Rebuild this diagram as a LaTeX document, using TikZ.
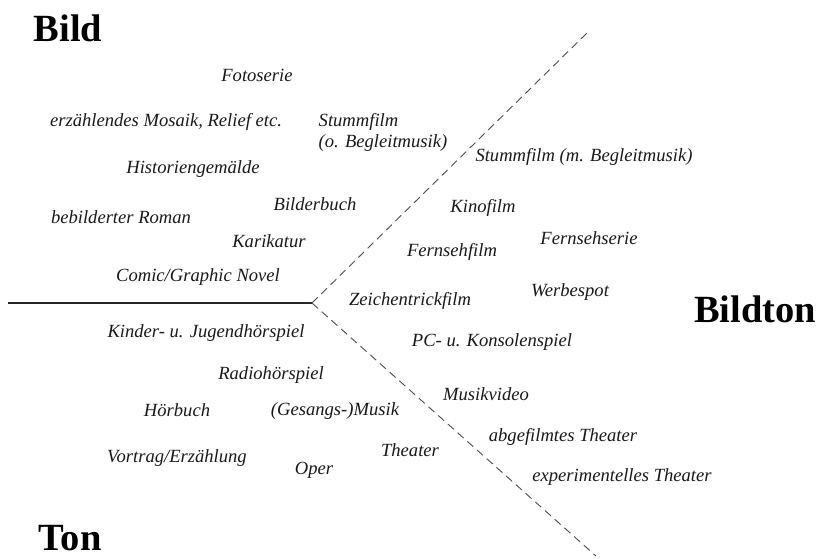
\documentclass[tikz,border=0pt]{standalone}
\usepackage{fontspec}
\setmainfont{Liberation Serif}
\begin{document}
\begin{tikzpicture}[x=1pt,y=-1pt,
  item/.style={font=\fontsize{18.6}{21}\selectfont\itshape, inner sep=0pt, text=black!90},
  head/.style={font=\fontsize{38.5}{40}\selectfont\bfseries, inner sep=0pt},
  divider/.style={black!70, line width=0.9pt, dash pattern=on 8pt off 5pt}]
\useasboundingbox[fill=white] (0,0) rectangle (822,558);
\coordinate (v) at (312,303);
\coordinate (w) at (8,303);
\coordinate (ne) at (590,30);
\coordinate (se) at (596,556);
\draw[line width=1.3pt, black!85] (w) -- (v);
\draw[divider] (v) -- (ne);
\draw[divider] (v) -- (se);
\node[head] (bild) at (68,28) {Bild};
\node[head] (bildton) at (755,309) {Bildton};
\node[head] (ton) at (70,538) {Ton};
\node[item] (n1) at (257,75) {Fotoserie};
\node[item] (n2) at (166,122) {erzählendes Mosaik, Relief etc.};
\node[item, align=left] (n3) at (383,132) {Stummfilm\\(o. Begleitmusik)};
\node[item] (n4) at (584,157) {Stummfilm (m. Begleitmusik)};
\node[item] (n5) at (193,169) {Historiengemälde};
\node[item] (n6) at (315,204) {Bilderbuch};
\node[item] (n7) at (121,217) {bebilderter Roman};
\node[item] (n8) at (483,208) {Kinofilm};
\node[item] (n9) at (269,241) {Karikatur};
\node[item] (n10) at (589,238) {Fernsehserie};
\node[item] (n11) at (452,252) {Fernsehfilm};
\node[item] (n12) at (198,277) {Comic/Graphic Novel};
\node[item] (n13) at (570,292) {Werbespot};
\node[item] (n14) at (410,301) {Zeichentrickfilm};
\node[item] (n15) at (206,333) {Kinder- u. Jugendhörspiel};
\node[item] (n16) at (492,342) {PC- u. Konsolenspiel};
\node[item] (n17) at (271,375) {Radiohörspiel};
\node[item] (n18) at (486,394) {Musikvideo};
\node[item] (n19) at (177,410) {Hörbuch};
\node[item] (n20) at (335,411) {(Gesangs-)Musik};
\node[item] (n21) at (563,437) {abgefilmtes Theater};
\node[item] (n22) at (410,450) {Theater};
\node[item] (n23) at (177,458) {Vortrag/Erzählung};
\node[item] (n24) at (314,470) {Oper};
\node[item] (n25) at (622,477) {experimentelles Theater};
\end{tikzpicture}
\end{document}
